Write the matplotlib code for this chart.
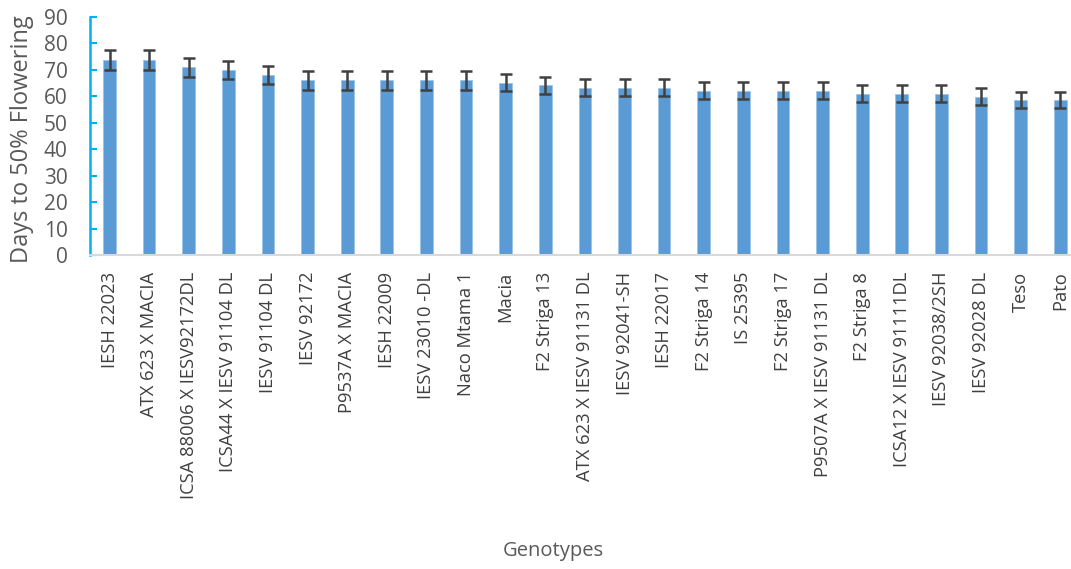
import matplotlib.pyplot as plt

# genotypes and days to 50% flowering
genotypes = ["IESH 22023", "ATX 623 X MACIA", "ICSA 88006 X IESV92172DL",
             "ICSA44 X IESV 91104 DL", "IESV 91104 DL", "IESV 92172",
             "P9537A X MACIA", "IESH 22009", "IESV 23010 -DL", "Naco Mtama 1",
             "Macia", "F2 Striga 13", "ATX 623 X IESV 91131 DL", "IESV 92041-SH",
             "IESH 22017", "F2 Striga 14", "IS 25395", "F2 Striga 17",
             "P9507A X IESV 91131 DL", "F2 Striga 8", "ICSA12 X IESV 91111DL",
             "IESV 92038/2SH", "IESV 92028 DL", "Teso", "Pato"]
days = [73.8, 73.8, 71, 70, 68, 66, 66, 66, 66, 66,
        65.2, 64.2, 63.2, 63.2, 63.2, 62.2, 62.2, 62.2, 62.2, 61,
        61, 61, 59.8, 58.7, 58.7]
errors = [3.8, 3.8, 3.6, 3.5, 3.5, 3.5, 3.5, 3.5, 3.5, 3.5,
          3.3, 3.2, 3.2, 3.2, 3.2, 3.2, 3.2, 3.2, 3.2, 3.2,
          3.2, 3.2, 3.2, 3.0, 3.0]
yticks = list(range(0, 91, 10))

plt.rcParams['font.family'] = ['Open Sans', 'DejaVu Sans']

fig = plt.figure(figsize=(10.71, 5.69), dpi=100)
ax = fig.add_axes([89.7 / 1071, 1 - 255 / 569, (1071 - 89.7) / 1071, 238 / 569])

x = list(range(len(genotypes)))
ax.bar(x, days, width=0.32, color='#5B9BD5', edgecolor='#9DC3E6', linewidth=0.6,
       yerr=errors, error_kw=dict(ecolor='#404040', elinewidth=1.8, capsize=4.5,
                                  capthick=1.8))

ax.set_xlim(-0.5, len(genotypes) - 0.5 - 0.23)
ax.set_ylim(0, 90)
ax.set_yticks(yticks)
ax.set_xticks(x)
ax.set_xticklabels(genotypes, rotation=90, fontsize=13.2, color='#404040')

for s in ['top', 'right']:
    ax.spines[s].set_visible(False)
ax.spines['left'].set_color('#00B0F0')
ax.spines['left'].set_linewidth(1.8)
ax.spines['bottom'].set_color('#D9D9D9')
ax.spines['bottom'].set_linewidth(1.5)

ax.tick_params(axis='y', direction='in', length=5, width=1.5, color='#00B0F0',
               labelsize=15, labelcolor='#595959', pad=16)
ax.tick_params(axis='x', length=0, pad=12)

fig.text(22 / 1071, 1 - 139 / 569, 'Days to 50% Flowering', rotation=90,
         ha='center', va='center', fontsize=17, color='#595959')
fig.text(553 / 1071, 1 - 551 / 569, 'Genotypes', ha='center', va='center',
         fontsize=14.5, color='#595959')

fig.savefig('out.png', dpi=100)
